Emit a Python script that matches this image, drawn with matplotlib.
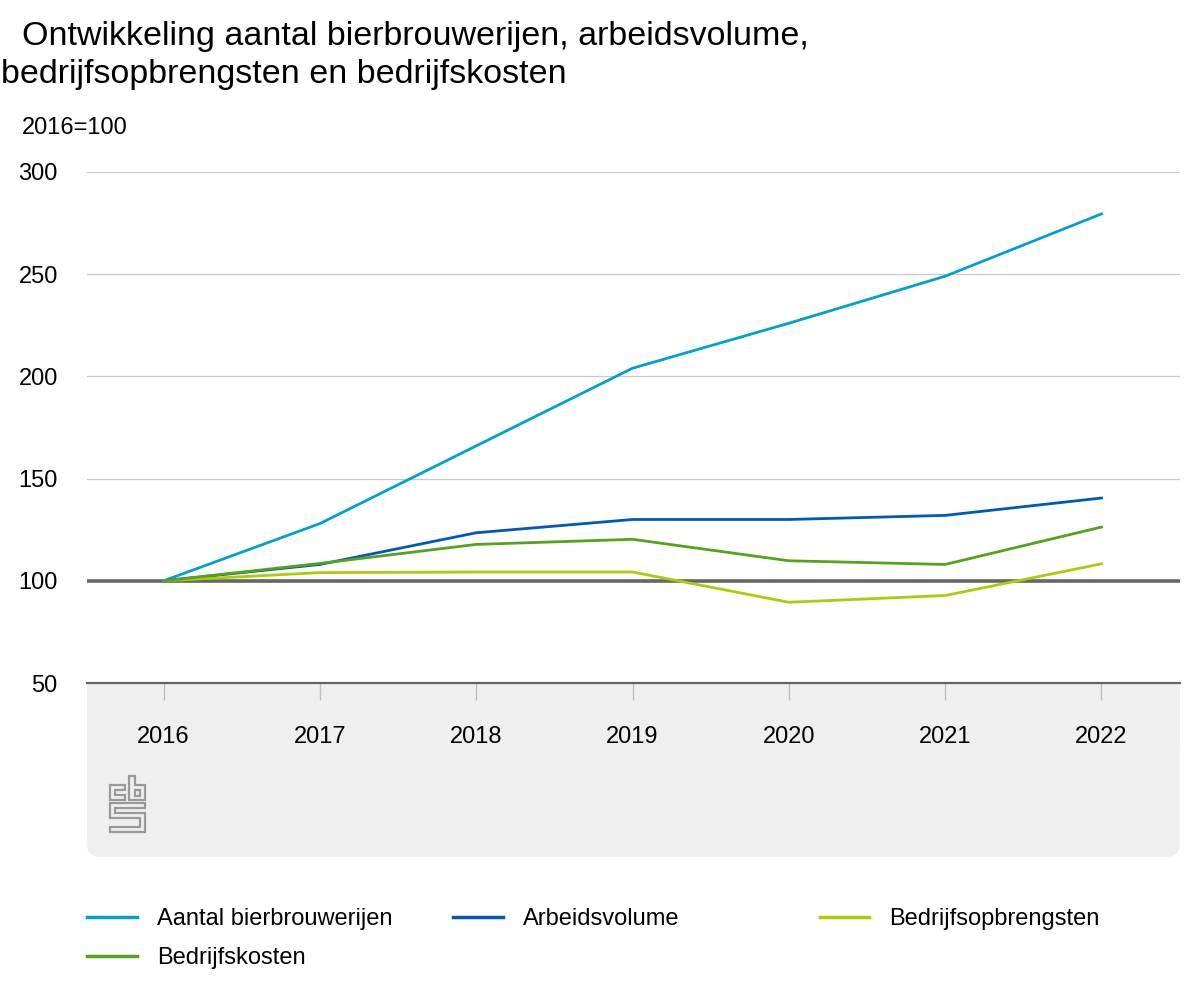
import matplotlib
matplotlib.use('Agg')
import matplotlib.pyplot as plt
from matplotlib.patches import FancyBboxPatch, Rectangle, Polygon
from matplotlib.lines import Line2D

plt.rcParams['font.family'] = ['Liberation Sans', 'DejaVu Sans']

years = ['2016', '2017', '2018', '2019', '2020', '2021', '2022']
brouwerijen = [100, 128, 166, 204, 226, 249, 279.5]
arbeidsvolume = [100, 108, 123.5, 130, 130, 132, 140.5]
opbrengsten = [100, 104, 104.3, 104.3, 89.5, 92.8, 108.3]
kosten = [100, 108.5, 117.8, 120.3, 109.8, 108, 126.3]

names = ['Aantal bierbrouwerijen', 'Arbeidsvolume', 'Bedrijfsopbrengsten', 'Bedrijfskosten']
colors = ['#00a1cd', '#0058b8', '#afcb05', '#53a31d']

fig = plt.figure(figsize=(12, 10), dpi=100)

# grey panel below the plot
panel = FancyBboxPatch((0.0725, 0.143), 0.9105, 0.174, boxstyle='round,pad=0,rounding_size=0.012',
                       transform=fig.transFigure, facecolor='#efefef', edgecolor='none', zorder=-2)
fig.patches.append(panel)
fig.patches.append(Rectangle((0.0725, 0.25), 0.9105, 0.067, transform=fig.transFigure,
                             facecolor='#efefef', edgecolor='none', zorder=-2))

ax = fig.add_axes([0.0725, 0.317, 0.9105, 0.511])
x = range(len(years))
for vals, name, c in zip([brouwerijen, arbeidsvolume, opbrengsten, kosten], names, colors):
    ax.plot(x, vals, color=c, lw=2.0, label=name, zorder=3)

ax.axhline(100, color='#666666', lw=2.6, zorder=2)
ax.set_ylim(50, 300)
ax.set_xlim(-0.49, 6.5)
ax.set_yticks([50, 100, 150, 200, 250, 300])
ax.grid(axis='y', color='#c8c8c8', lw=0.9, zorder=1)
for s in ['top', 'right', 'left']:
    ax.spines[s].set_visible(False)
ax.spines['bottom'].set_color('#666666')
ax.spines['bottom'].set_linewidth(1.6)
ax.set_xticks(list(x))
ax.set_xticklabels(years, fontsize=17)
ax.tick_params(axis='x', length=12, color='#c0c0c0', width=1, pad=19)
ax.tick_params(axis='y', length=0, labelsize=17, pad=21)
ax.set_facecolor('none')

fig.text(0.018, 0.963, 'Ontwikkeling aantal bierbrouwerijen, arbeidsvolume,', fontsize=24.5, va='center')
fig.text(0.001, 0.925, 'bedrijfsopbrengsten en bedrijfskosten', fontsize=24.5, va='center')
fig.text(0.018, 0.872, '2016=100', fontsize=17, va='center')

# simple cbs logo, drawn in pixel coordinates (y from top)
def logo_shape(pts):
    fpts = [(px / 1200, 1 - py / 1000) for px, py in pts]
    fig.patches.append(Polygon(fpts, closed=True, transform=fig.transFigure,
                               facecolor='none', edgecolor='#999999', lw=1.6))
logo_shape([(125, 785), (110, 785), (110, 800), (125, 800), (125, 795), (115, 795), (115, 790), (125, 790)])
logo_shape([(129, 776), (135, 776), (135, 785), (145, 785), (145, 800), (129, 800)])
logo_shape([(135, 790), (140, 790), (140, 796), (135, 796)])
logo_shape([(145, 803), (110, 803), (110, 818), (140, 818), (140, 827), (110, 827), (110, 832),
            (145, 832), (145, 813), (115, 813), (115, 808), (145, 808)])

# legend in three fixed columns
handles = [Line2D([], [], color=c, lw=2.5) for c in colors]
columns = [([0, 3], 0.0725), ([1], 0.3775), ([2], 0.683)]
for idx, xpos in columns:
    leg = fig.legend([handles[i] for i in idx], [names[i] for i in idx],
                     loc='upper left', bbox_to_anchor=(xpos, 0.092), frameon=False, fontsize=17,
                     borderpad=0, borderaxespad=0, handlelength=2.1, handletextpad=0.85,
                     labelspacing=0.72)

fig.savefig('out.png', dpi=100)
